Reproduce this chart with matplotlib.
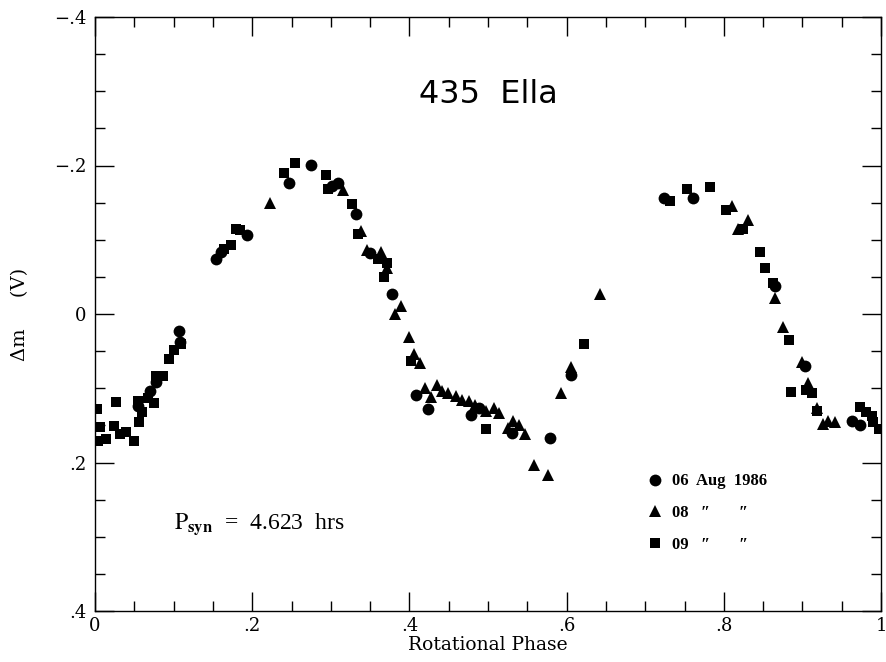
import matplotlib
matplotlib.use("Agg")
import matplotlib.pyplot as plt
from matplotlib.ticker import MultipleLocator
from matplotlib.lines import Line2D

plt.rcParams['mathtext.fontset'] = 'stix'

# 06 Aug 1986 (circles)
aug06_phase = [0.055, 0.070, 0.077, 0.107, 0.108, 0.154, 0.160, 0.193, 0.247, 0.275,
               0.301, 0.309, 0.332, 0.350, 0.378, 0.409, 0.424, 0.478, 0.489, 0.531,
               0.579, 0.605, 0.724, 0.761, 0.865, 0.903, 0.963, 0.973]
aug06_dm = [0.124, 0.104, 0.092, 0.023, 0.038, -0.074, -0.083, -0.106, -0.176, -0.201,
            -0.172, -0.176, -0.135, -0.082, -0.027, 0.109, 0.128, 0.136, 0.127, 0.160,
            0.167, 0.082, -0.156, -0.156, -0.038, 0.070, 0.144, 0.150]

# 08 Aug (triangles)
aug08_phase = [0.223, 0.316, 0.339, 0.346, 0.364, 0.371, 0.389, 0.382, 0.400, 0.406,
               0.413, 0.420, 0.427, 0.435, 0.442, 0.449, 0.459, 0.467, 0.476, 0.484,
               0.498, 0.507, 0.514, 0.525, 0.532, 0.540, 0.547, 0.558, 0.576, 0.593,
               0.605, 0.643, 0.810, 0.818, 0.831, 0.865, 0.875, 0.900, 0.907, 0.918,
               0.926, 0.932, 0.941]
aug08_dm = [-0.150, -0.167, -0.112, -0.086, -0.083, -0.062, -0.011, 0.000, 0.031, 0.054,
            0.066, 0.100, 0.112, 0.096, 0.104, 0.106, 0.111, 0.116, 0.117, 0.122,
            0.130, 0.126, 0.134, 0.154, 0.144, 0.149, 0.162, 0.204, 0.217, 0.107,
            0.072, -0.027, -0.146, -0.115, -0.127, -0.022, 0.018, 0.064, 0.093, 0.127,
            0.148, 0.144, 0.146]

# 09 Aug (squares)
aug09_phase = [0.002, 0.006, 0.004, 0.014, 0.027, 0.024, 0.032, 0.039, 0.050, 0.056,
               0.055, 0.060, 0.067, 0.075, 0.078, 0.086, 0.094, 0.100, 0.109,
               0.164, 0.173, 0.179, 0.185, 0.240, 0.254, 0.294, 0.297, 0.327, 0.334,
               0.360, 0.371, 0.368, 0.402, 0.498, 0.622,
               0.731, 0.753, 0.782, 0.803, 0.825, 0.846, 0.853, 0.862, 0.883, 0.886,
               0.904, 0.912, 0.918, 0.973, 0.981, 0.989, 0.990, 0.997]
aug09_dm = [0.128, 0.152, 0.171, 0.169, 0.119, 0.151, 0.161, 0.159, 0.171, 0.146,
            0.117, 0.132, 0.113, 0.120, 0.084, 0.083, 0.060, 0.048, 0.040,
            -0.087, -0.093, -0.114, -0.113, -0.190, -0.203, -0.187, -0.168, -0.148, -0.108,
            -0.074, -0.069, -0.050, 0.063, 0.155, 0.040,
            -0.152, -0.168, -0.171, -0.140, -0.114, -0.083, -0.062, -0.042, 0.035, 0.105,
            0.103, 0.107, 0.131, 0.125, 0.132, 0.137, 0.145, 0.155]

x_ticks = [0, 0.2, 0.4, 0.6, 0.8, 1.0]
x_labels = ['0', '.2', '.4', '.6', '.8', '1']
y_ticks = [-0.4, -0.2, 0, 0.2, 0.4]
y_labels = ['\u2212.4', '\u2212.2', '0', '.2', '.4']
legend_labels = ['06  Aug  1986', '08   \u2033       \u2033', '09   \u2033       \u2033']

serif = ['Liberation Serif', 'DejaVu Serif']
wide_serif = ['DejaVu Serif']

fig = plt.figure(figsize=(8.86, 6.62), dpi=100)
ax = fig.add_axes([95 / 886, 51 / 662, 786 / 886, 594 / 662])

ax.plot(aug06_phase, aug06_dm, 'o', color='black', ms=8.5, mew=0)
ax.plot(aug08_phase, aug08_dm, '^', color='black', ms=8, mew=0)
ax.plot(aug09_phase, aug09_dm, 's', color='black', ms=6.5, mew=0)

ax.set_xlim(0, 1)
ax.set_ylim(0.4, -0.4)
ax.set_xticks(x_ticks)
ax.set_xticklabels(x_labels, fontfamily=wide_serif, fontsize=13)
ax.set_yticks(y_ticks)
ax.set_yticklabels(y_labels, fontfamily=wide_serif, fontsize=13)
ax.xaxis.set_minor_locator(MultipleLocator(0.05))
ax.yaxis.set_minor_locator(MultipleLocator(0.05))
ax.tick_params(which='both', direction='in', top=True, right=True, width=1.0)
ax.tick_params(which='major', length=14)
ax.tick_params(axis='x', which='major', pad=4)
ax.tick_params(axis='y', which='major', pad=6)
ax.tick_params(which='minor', length=7)
for s in ax.spines.values():
    s.set_linewidth(1.0)

ax.set_xlabel('Rotational Phase', fontfamily=wide_serif, fontsize=13.5, labelpad=1)
ax.set_ylabel('\u0394m     (V)', fontfamily=wide_serif, fontsize=14, labelpad=18)

ax.text(0.5, -0.295, '435  Ella', ha='center', va='center', fontsize=23,
        fontfamily='DejaVu Sans')
ax.text(0.101, 0.283, r'$\mathrm{P}_{\mathbf{syn}}$  =  4.623  hrs', ha='left', va='center',
        fontsize=17, fontfamily=serif)

handles = [Line2D([], [], marker='o', ls='none', color='black', ms=8.5, mew=0),
           Line2D([], [], marker='^', ls='none', color='black', ms=8, mew=0),
           Line2D([], [], marker='s', ls='none', color='black', ms=6.5, mew=0)]
ax.legend(handles, legend_labels, loc='upper left', bbox_to_anchor=(0.685, 0.257),
          frameon=False, handlelength=0.8, handletextpad=0.6, labelspacing=0.95,
          prop={'family': serif, 'weight': 'bold', 'size': 12})

fig.savefig('out.png', dpi=100)
